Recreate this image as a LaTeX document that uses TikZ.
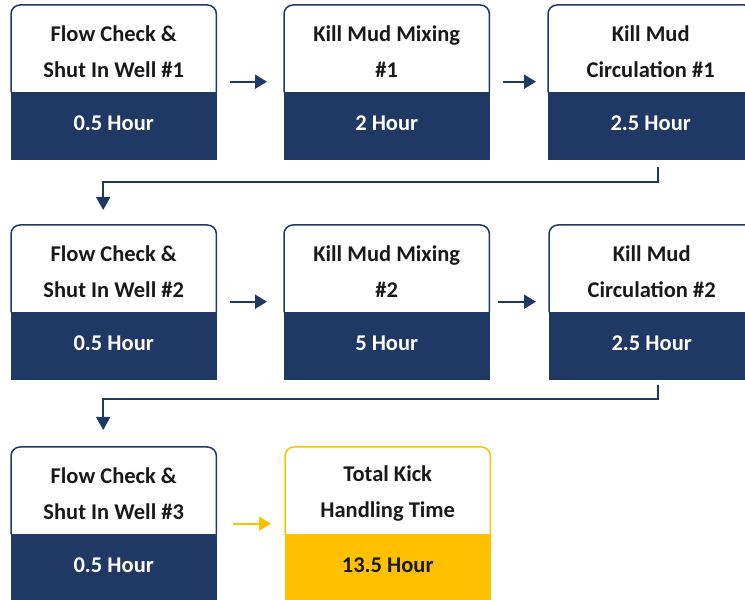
\documentclass[tikz,border=0pt]{standalone}
\usepackage{fontspec}
\setmainfont{Carlito}
\usetikzlibrary{arrows.meta,calc}
\definecolor{navy}{HTML}{203864}
\definecolor{gold}{HTML}{FFC000}
\tikzset{
  titletext/.style={font=\bfseries\fontsize{22.5}{36}\selectfont, align=center, text=black!90, inner sep=0pt},
  hourtext/.style={font=\bfseries\fontsize{22.5}{27}\selectfont, inner sep=0pt},
  flow/.style={line width=2pt, -{Triangle[length=12pt,width=14pt]}},
  link/.style={line width=1.8pt, -{Triangle[length=13pt,width=14pt]}},
  ghost/.style={minimum width=205pt, minimum height=153pt, anchor=north west, inner sep=0pt},
}
\newcommand\kickbox[7]{%
  \node[ghost] (#1) at (#2,#3) {};
  \node[minimum width=205pt, minimum height=87pt, anchor=north west, inner sep=0pt] (#1t) at (#2,#3) {};
  \node[fill=#4, draw=#4, line width=1.2pt, minimum width=205pt, minimum height=66pt, anchor=north, inner sep=0pt] (#1h) at (#1t.south) {};
  \draw[draw=#4, line width=1.5pt, rounded corners=9pt] (#1t.south west) -- (#1t.north west) -- (#1t.north east) -- (#1t.south east);
  \node[titletext] (#1x) at ($(#1t.center)+(0,-3)$) {#5};
  \node[hourtext, text=#7] (#1y) at ($(#1h.center)+(0,3)$) {#6};
}
\begin{document}
\begin{tikzpicture}[x=1pt,y=1pt]
\useasboundingbox (0,0) rectangle (745,600);
\kickbox{b1}{11}{595}{navy}{Flow Check \&\\Shut In Well \#1}{0.5 Hour}{white}
\kickbox{b2}{284}{595}{navy}{Kill Mud Mixing\\\#1}{2 Hour}{white}
\kickbox{b3}{548}{595}{navy}{Kill Mud\\Circulation \#1}{2.5 Hour}{white}
\kickbox{b4}{11}{375}{navy}{Flow Check \&\\Shut In Well \#2}{0.5 Hour}{white}
\kickbox{b5}{284}{375}{navy}{Kill Mud Mixing\\\#2}{5 Hour}{white}
\kickbox{b6}{549}{375}{navy}{Kill Mud\\Circulation \#2}{2.5 Hour}{white}
\kickbox{b7}{11}{153}{navy}{Flow Check \&\\Shut In Well \#3}{0.5 Hour}{white}
\kickbox{b8}{285}{153}{gold}{Total Kick\\Handling Time}{13.5 Hour}{black!90}
% horizontal arrows
\draw[flow, navy, shorten <=14pt, shorten >=17pt] (b1.east) -- (b2.west);
\draw[flow, navy, shorten <=14pt, shorten >=12pt] (b2.east) -- (b3.west);
\draw[flow, navy, shorten <=14pt, shorten >=17pt] (b4.east) -- (b5.west);
\draw[flow, navy, shorten <=9pt, shorten >=13pt] (b5.east) -- (b6.west);
\draw[flow, gold, shorten <=17pt, shorten >=14pt] (b7.east) -- (b8.west);
% row links
\coordinate (c1s) at ($(b3.south)+(7.5,-9)$);
\coordinate (c1e) at ($(b4.north)+(-10.5,15)$);
\draw[link, navy] (c1s) -- ++(0,-15) -| (c1e);
\coordinate (c2s) at ($(b6.south)+(6.5,-7)$);
\coordinate (c2e) at ($(b7.north)+(-10.5,17)$);
\draw[link, navy] (c2s) -- ++(0,-14) -| (c2e);
\end{tikzpicture}
\end{document}
